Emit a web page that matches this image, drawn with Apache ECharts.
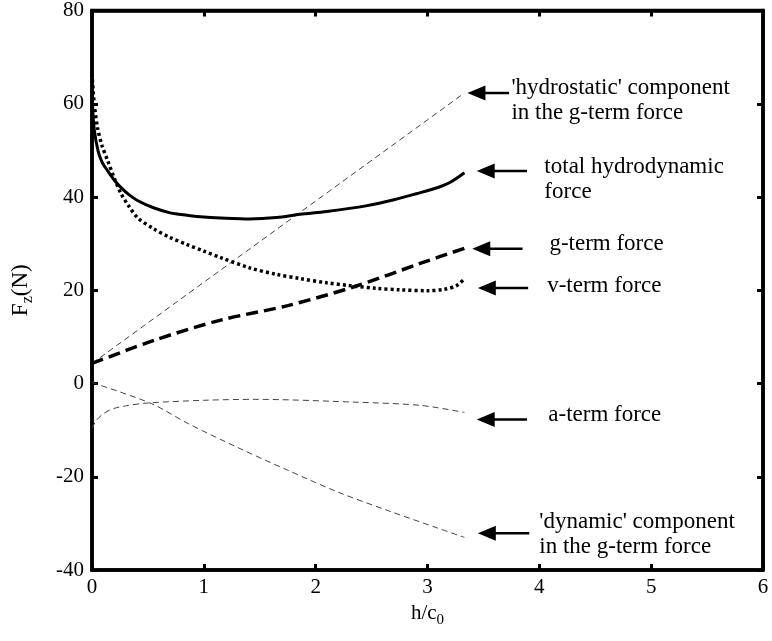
<!DOCTYPE html>
<html><head><meta charset="utf-8">
<script src="https://cdn.jsdelivr.net/npm/echarts@6/dist/echarts.min.js"></script>
<style>html,body{margin:0;padding:0;background:#fff}#c{width:772px;height:641px}</style>
</head><body><div id="c"></div>
<script>
// Axis ticks
const xTicks = [0, 1, 2, 3, 4, 5, 6];
const yTicks = [-40, -20, 0, 20, 40, 60, 80];

// total hydrodynamic force (solid)
const totalX = [0.005, 0.02, 0.054, 0.09, 0.14, 0.2, 0.26, 0.33, 0.41, 0.55, 0.7, 0.85, 1.0, 1.15, 1.41, 1.65, 1.86, 2.1, 2.45, 2.7, 2.9, 3.1, 3.2, 3.33];
const totalY = [59.5, 54.5, 49.9, 47.5, 45.6, 43.6, 42.0, 40.5, 39.2, 37.7, 36.6, 36.1, 35.7, 35.5, 35.3, 35.6, 36.3, 36.9, 38.1, 39.4, 40.7, 42.1, 43.1, 45.2];

// v-term force (dotted)
const vX = [0.0, 0.02, 0.05, 0.09, 0.14, 0.2, 0.26, 0.33, 0.41, 0.55, 0.7, 0.85, 1.0, 1.15, 1.41, 1.65, 1.86, 2.1, 2.3, 2.55, 2.75, 3.0, 3.15, 3.26, 3.33];
const vY = [66.5, 60.0, 54.8, 51.0, 47.8, 44.0, 40.7, 38.0, 35.5, 33.2, 31.3, 29.8, 28.4, 27.0, 24.8, 23.4, 22.5, 21.6, 21.0, 20.4, 20.1, 19.9, 20.2, 21.0, 22.4];

// g-term force (thick dashed)
const gX = [0.0, 0.56, 1.15, 1.75, 2.35, 2.94, 3.33];
const gY = [4.3, 9.3, 13.6, 16.7, 20.8, 25.8, 29.0];

// 'hydrostatic' component in the g-term force (thin dashed)
const hX = [0.0, 3.33];
const hY = [4.3, 62.3];

// 'dynamic' component in the g-term force (thin dashed)
const dX = [0.0, 0.53, 0.86, 1.3, 1.75, 2.2, 2.64, 3.09, 3.33];
const dY = [0.2, -4.3, -8.6, -13.7, -18.6, -23.3, -27.2, -31.0, -33.0];

// a-term force (thin dashed)
const aX = [0.0, 0.04, 0.1, 0.19, 0.3, 0.49, 1.0, 1.46, 2.35, 2.94, 3.33];
const aY = [-9.6, -7.9, -6.5, -5.4, -4.8, -4.2, -3.6, -3.4, -4.0, -4.7, -6.2];

// annotation labels
const labelHydro = ["'hydrostatic' component", "in the g-term force"];
const labelTotal = ["total hydrodynamic", "force"];
const labelG = ["g-term force"];
const labelV = ["v-term force"];
const labelA = ["a-term force"];
const labelDyn = ["'dynamic' component", "in the g-term force"];

const zip = (xs, ys) => xs.map((x, i) => [x, ys[i]]);
const FONT = '"Liberation Serif","Times New Roman",serif';

const chart = echarts.init(document.getElementById('c'), null, {renderer: 'canvas'});

const axisCommon = {
  type: 'value',
  axisLine: {show: true, onZero: false, lineStyle: {color: '#000', width: 3.5}},
  axisTick: {show: true, inside: true, length: 6, lineStyle: {color: '#000', width: 3}},
  splitLine: {show: false}
};

const thin = {color: '#444', width: 1, type: [6, 4]};
const SM = 0.3;

chart.setOption({
  animation: false,
  backgroundColor: '#fff',
  grid: {left: 92, right: 9, top: 10, bottom: 71, show: true, borderColor: '#000', borderWidth: 3.5, backgroundColor: 'transparent'},
  xAxis: [
    Object.assign({}, axisCommon, {
      min: xTicks[0], max: xTicks[xTicks.length - 1], interval: 1, position: 'bottom',
      axisLabel: {color: '#000', fontFamily: FONT, fontSize: 21, margin: 7},
      name: '{a|h/c}{s|0}', nameLocation: 'middle', nameGap: 26,
      nameTextStyle: {rich: {a: {fontFamily: FONT, fontSize: 21, color: '#000'}, s: {fontFamily: FONT, fontSize: 15, color: '#000', verticalAlign: 'bottom', padding: [14, 0, 0, 0]}}}
    }),
    Object.assign({}, axisCommon, {
      min: xTicks[0], max: xTicks[xTicks.length - 1], interval: 1, position: 'top',
      axisLabel: {show: false}
    })
  ],
  yAxis: [
    Object.assign({}, axisCommon, {
      min: yTicks[0], max: yTicks[yTicks.length - 1], interval: 20, position: 'left',
      axisLabel: {color: '#000', fontFamily: FONT, fontSize: 21, margin: 8},
      name: '{a|F}{s|z}{a|(N)}', nameLocation: 'middle', nameGap: 56, nameRotate: 90,
      nameTextStyle: {rich: {a: {fontFamily: FONT, fontSize: 23, color: '#000'}, s: {fontFamily: FONT, fontSize: 16, color: '#000', verticalAlign: 'bottom', padding: [14, 0, 0, 0]}}}
    }),
    Object.assign({}, axisCommon, {
      min: yTicks[0], max: yTicks[yTicks.length - 1], interval: 20, position: 'right',
      axisLabel: {show: false}
    })
  ],
  series: [
    {type: 'line', name: 'hydrostatic', data: zip(hX, hY), showSymbol: false, lineStyle: thin},
    {type: 'line', name: 'dynamic', data: zip(dX, dY), showSymbol: false, smooth: SM, lineStyle: thin},
    {type: 'line', name: 'a-term', data: zip(aX, aY), showSymbol: false, smooth: SM, lineStyle: thin},
    {type: 'line', name: 'g-term', data: zip(gX, gY), showSymbol: false, smooth: SM, lineStyle: {color: '#000', width: 3.5, type: [12, 6]}},
    {type: 'line', name: 'v-term', data: zip(vX, vY), showSymbol: false, smooth: SM, lineStyle: {color: '#000', width: 3.5, type: [3, 3]}},
    {type: 'line', name: 'total', data: zip(totalX, totalY), showSymbol: false, smooth: SM, lineStyle: {color: '#000', width: 3}}
  ]
});

// Annotation arrows, placed in data coordinates
const annots = [
  {lines: labelHydro, tip: 3.357, end: 3.73, y: 62.3, tx: 3.75, dy: -5},
  {lines: labelTotal, tip: 3.44, end: 3.89, y: 45.6, tx: 4.045, dy: -4},
  {lines: labelG, tip: 3.40, end: 3.85, y: 28.9, tx: 4.09, dy: -5},
  {lines: labelV, tip: 3.45, end: 3.90, y: 20.5, tx: 4.07, dy: -2},
  {lines: labelA, tip: 3.44, end: 3.89, y: -7.7, tx: 4.08, dy: -4},
  {lines: labelDyn, tip: 3.45, end: 3.91, y: -32.1, tx: 4.0, dy: -11}
];
const graphics = [];
annots.forEach(a => {
  const p1 = chart.convertToPixel({xAxisIndex: 0, yAxisIndex: 0}, [a.tip, a.y]);
  const p2 = chart.convertToPixel({xAxisIndex: 0, yAxisIndex: 0}, [a.end, a.y]);
  const pt = chart.convertToPixel({xAxisIndex: 0, yAxisIndex: 0}, [a.tx, a.y]);
  graphics.push({type: 'polygon', shape: {points: [[p1[0], p1[1]], [p1[0] + 18, p1[1] - 7.5], [p1[0] + 18, p1[1] + 7.5]]}, style: {fill: '#000'}});
  graphics.push({type: 'line', shape: {x1: p1[0] + 14, y1: p1[1], x2: p2[0], y2: p2[1]}, style: {stroke: '#000', lineWidth: 2.5}});
  a.lines.forEach((t, i) => {
    graphics.push({type: 'text', x: pt[0], y: pt[1] + a.dy + i * 25, style: {text: t, font: '23px ' + FONT, fill: '#000', textAlign: 'left', textVerticalAlign: 'middle'}});
  });
});
chart.setOption({graphic: graphics});
</script>
</body></html>
